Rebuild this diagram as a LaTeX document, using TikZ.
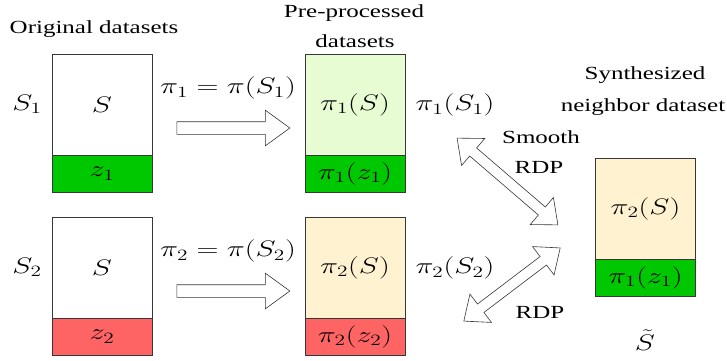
\RequirePackage{fix-cm}
\documentclass[tikz,border=0pt]{standalone}
\usepackage[no-math]{fontspec}
\setmainfont{Liberation Serif}
\newfontfamily\labelfont{Liberation Serif}
\usepackage{graphicx}
\usetikzlibrary{shapes.arrows, calc}
\definecolor{tagGreen}{RGB}{0, 200, 0}
\definecolor{tagRed}{RGB}{255, 100, 100}
\definecolor{preGreen}{RGB}{232, 252, 212}
\definecolor{preBeige}{RGB}{255, 242, 208}
\definecolor{edgeGrey}{RGB}{55, 55, 55}
\newcommand{\textsz}{\labelfont\fontsize{18.5}{21}\selectfont}
\newcommand{\mathsz}{\fontsize{22.5}{26}\selectfont}
\newcommand{\wide}[1]{\scalebox{1.35}[1]{#1}}

\begin{document}
\begin{tikzpicture} [
        x=1pt, y=-1pt,
        box/.style={draw=edgeGrey, line width=0.8pt, minimum width=100pt, anchor=north, inner sep=0pt, outer sep=0pt, font=\mathsz},
        body/.style={box, minimum height=101pt},
        tag/.style={box, minimum height=37pt},
        title/.style={font=\textsz, inner sep=0pt, anchor=base},
        formula/.style={font=\mathsz, inner sep=0pt},
        fat arrow/.style={single arrow, draw=edgeGrey, fill=white, line width=0.6pt, minimum height=113pt, inner xsep=0pt, inner ysep=6pt, single arrow head extend=11.5pt, single arrow tip angle=72},
        twin arrow/.style={double arrow, draw=edgeGrey, fill=white, line width=0.6pt, inner xsep=0pt, inner ysep=5pt, double arrow head extend=12.5pt, double arrow tip angle=80},
    ]
    \useasboundingbox (0,0) rectangle (727,360);

    % column titles
    \node[title] (orig title) at (94,33) {\wide{Original datasets}};
    \node[title] (pre title) at (354,17) {\wide{Pre-processed}};
    \node[title] (pre title b) at (355,47) {\wide{datasets}};
    \node[title] (synth title) at (645,79) {\wide{Synthesized}};
    \node[title] (synth title b) at (643,111) {\wide{neighbor dataset}};

    % the two neighbouring datasets and their pre-processed versions
    \foreach \r/\ytop/\tagcol/\precol in {1/54/tagGreen/preGreen, 2/217/tagRed/preBeige} {
        \node[body] (orig \r) at (102,\ytop) {\wide{$S$}};
        \node[tag, fill=\tagcol] (orig tag \r) at (orig \r.south) {\wide{$z_\r$}};
        \node[formula] (name \r) at (27,\ytop+50) {\wide{$S_\r$}};

        \node[formula] (map label \r) at (228,\ytop+34) {\wide{$\pi_\r = \pi(S_\r)$}};
        \node[fat arrow] (map \r) at (229,\ytop+74) {};

        \node[body, fill=\precol] (pre \r) at (355,\ytop) {\wide{$\pi_\r(S)$}};
        \node[tag, fill=\tagcol] (pre tag \r) at (pre \r.south) {\wide{$\pi_\r(z_\r)$}};
        \node[formula] (out \r) at (455,\ytop+51) {\wide{$\pi_\r(S_\r)$}};
    }

    % synthesized neighbour
    \node[body, fill=preBeige] (synth) at (645.5,158) {\wide{$\pi_2(S)$}};
    \node[tag, fill=tagGreen] (synth tag) at (synth.south) {\wide{$\pi_1(z_1)$}};
    \node[formula] (synth name) at (645,340) {\wide{$\tilde{S}$}};

    % privacy links
    \node[twin arrow, minimum height=133pt, rotate=-40.7] (link 1) at (507.5,181.5) {};
    \node[twin arrow, minimum height=121pt, rotate=37.2] (link 2) at (512,284.5) {};
    \node[title] (smooth) at (541,143) {\wide{Smooth}};
    \node[title] (rdp a) at (539,173) {\wide{RDP}};
    \node[title] (rdp b) at (540,318) {\wide{RDP}};
\end{tikzpicture}
\end{document}
